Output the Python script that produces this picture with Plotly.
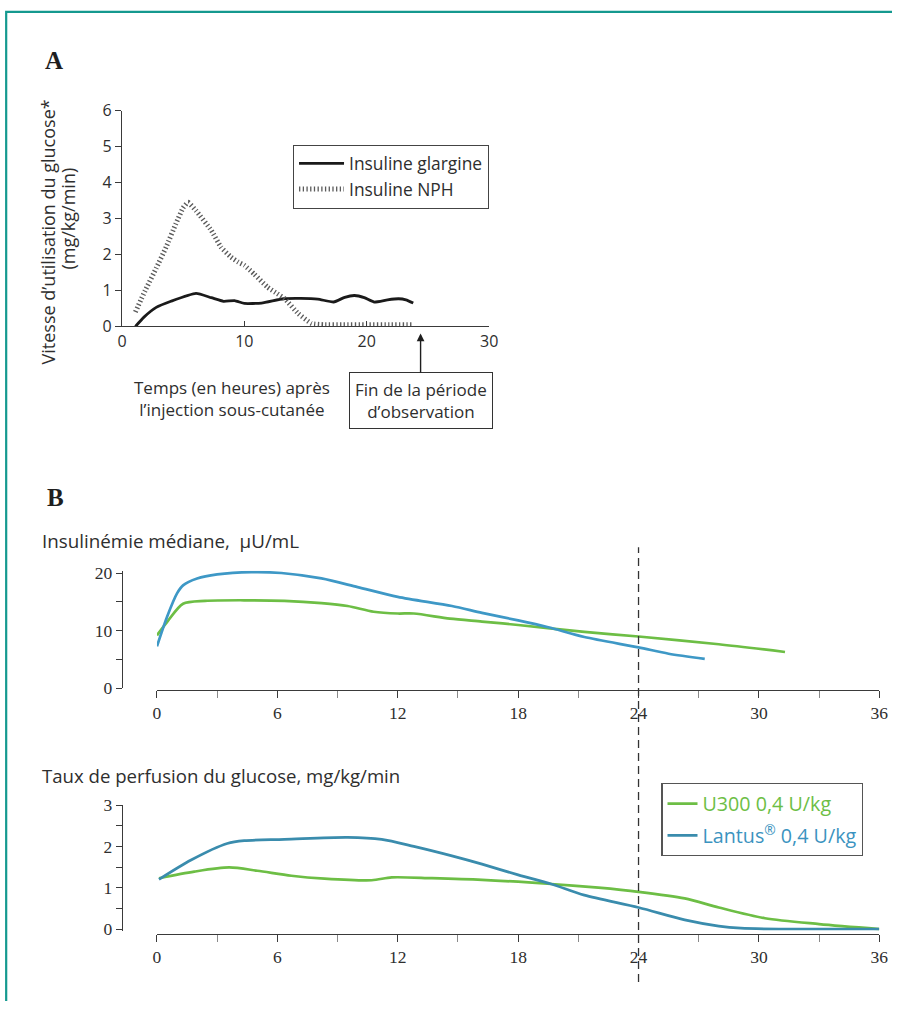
import plotly.graph_objects as go

W, H = 901, 1012
# measured photo mapping (page px -> picture px): pic = S * page + B
SX, BX, SY, BY = 0.984, 4.1, 0.979, 10.3
def fx(p): return ((p - BX) / SX) / W          # picture px -> paper fraction
def fy(p): return 1 - ((p - BY) / SY) / H

# ---------------- Panel A data ----------------
glargine_t = [1.1, 1.8, 2.8, 4.0, 6.05, 7.3, 8.3, 9.2, 10.0, 11.4, 13.2, 14.6, 16.0, 17.3, 18.2, 19.0, 19.8, 20.6, 21.7, 22.6, 23.2, 23.8]
glargine_v = [0.0, 0.26, 0.53, 0.70, 0.92, 0.80, 0.70, 0.72, 0.64, 0.65, 0.77, 0.78, 0.76, 0.68, 0.81, 0.86, 0.80, 0.68, 0.74, 0.77, 0.74, 0.65]
nph_t = [1.1, 1.9, 2.8, 3.6, 4.4, 5.0, 5.4, 6.05, 7.3, 8.1, 8.9, 9.5, 10.0, 10.8, 11.9, 12.7, 13.3, 14.4, 15.5, 16.5, 18.0, 20.0, 22.0, 23.8]
nph_v = [0.40, 1.00, 1.62, 2.20, 2.85, 3.30, 3.45, 3.22, 2.67, 2.20, 1.93, 1.79, 1.70, 1.46, 1.09, 0.91, 0.77, 0.36, 0.08, 0.05, 0.05, 0.05, 0.05, 0.05]

# ---------------- Panel B data ----------------
lantus_ins_t = [0, 0.5, 1.0, 1.3, 2.0, 3.0, 4.7, 6.2, 8.2, 10.0, 12.0, 14.7, 16.2, 18.0, 19.5, 21.3, 24.0, 25.5, 27.3]
lantus_ins_v = [7.3, 12.4, 16.5, 17.9, 19.1, 19.8, 20.2, 20.05, 19.1, 17.6, 15.9, 14.3, 13.1, 11.8, 10.6, 8.9, 7.1, 6.0, 5.1]
u300_ins_t = [0, 0.5, 1.3, 2.4, 4.5, 6.35, 8.2, 9.5, 10.8, 12.0, 12.8, 14.6, 16.2, 18.0, 21.3, 24.0, 28.0, 31.3]
u300_ins_v = [9.2, 11.5, 14.7, 15.2, 15.3, 15.2, 14.8, 14.3, 13.3, 13.0, 13.0, 12.1, 11.6, 11.0, 9.8, 9.0, 7.65, 6.3]

lantus_gir_t = [0.1, 1.7, 3.5, 4.35, 6.35, 9.5, 11.2, 12.8, 14.7, 16.2, 18.0, 19.65, 21.3, 24.0, 26.3, 28.0, 29.1, 31.0, 36.0]
lantus_gir_v = [1.2, 1.67, 2.07, 2.14, 2.17, 2.22, 2.17, 2.0, 1.77, 1.57, 1.31, 1.09, 0.82, 0.52, 0.22, 0.07, 0.02, 0.0, 0.0]
u300_gir_t = [0.1, 1.86, 3.6, 5.0, 6.7, 8.35, 10.7, 11.7, 13.7, 16.2, 19.65, 22.0, 24.0, 26.3, 28.0, 30.3, 33.0, 36.0]
u300_gir_v = [1.23, 1.39, 1.49, 1.41, 1.29, 1.22, 1.18, 1.25, 1.23, 1.19, 1.09, 1.0, 0.9, 0.74, 0.52, 0.26, 0.12, 0.0]

a_xticks = [0, 10, 20, 30]
a_yticks = [0, 1, 2, 3, 4, 5, 6]
b_xticks = [0, 6, 12, 18, 24, 30, 36]
b_xminor = [3, 9, 15, 21, 27, 33]
ins_yticks = [0, 10, 20]
ins_yminor = [5, 15]
gir_yticks = [0, 1, 2, 3]
gir_yminor = [0.5, 1.5, 2.5]

GREEN = "#6dbe45"
BLUE_T = "#3e98c6"
BLUE_B = "#3a8cad"
TXT = "#2e2e2e"
SANS = "Open Sans"
SERIF = "Liberation Serif"

fig = go.Figure()

fig.add_trace(go.Scatter(x=glargine_t, y=glargine_v, mode="lines", name="Insuline glargine",
                         line=dict(color="#1a1a1a", width=2.8, shape="spline", smoothing=0.5),
                         xaxis="x", yaxis="y", legend="legend"))
fig.add_trace(go.Scatter(x=nph_t, y=nph_v, mode="lines", name="Insuline NPH",
                         line=dict(color="#5a5a5a", width=5, dash="1.3px,2.4px", shape="spline", smoothing=0.4),
                         xaxis="x", yaxis="y", legend="legend"))

fig.add_trace(go.Scatter(x=u300_ins_t, y=u300_ins_v, mode="lines", showlegend=False,
                         line=dict(color=GREEN, width=2.7, shape="spline", smoothing=0.8),
                         xaxis="x2", yaxis="y2"))
fig.add_trace(go.Scatter(x=lantus_ins_t, y=lantus_ins_v, mode="lines", showlegend=False,
                         line=dict(color=BLUE_T, width=2.7, shape="spline", smoothing=0.8),
                         xaxis="x2", yaxis="y2"))

fig.add_trace(go.Scatter(x=u300_gir_t, y=u300_gir_v, mode="lines",
                         name="<span style='color:%s'>U300 0,4 U/kg</span>" % GREEN, legendgroup="g1",
                         line=dict(color=GREEN, width=2.7, shape="spline", smoothing=0.8),
                         xaxis="x3", yaxis="y3", legend="legend2"))
fig.add_trace(go.Scatter(x=lantus_gir_t, y=lantus_gir_v, mode="lines",
                         name="<span style='color:%s'>Lantus<sup>®</sup> 0,4 U/kg</span>" % "#3b93c0", legendgroup="g2",
                         line=dict(color=BLUE_B, width=2.7, shape="spline", smoothing=0.8),
                         xaxis="x3", yaxis="y3", legend="legend2"))

axis_common = dict(showgrid=False, zeroline=False, showline=True, linecolor="#3a3a3a", linewidth=1.3,
                   tickcolor="#3a3a3a", tickwidth=1.2)

ins_top = 20.45
gir_bot = -0.05
layout = dict(
    autosize=True, margin=dict(l=0, r=0, t=0, b=0),
    paper_bgcolor="white", plot_bgcolor="rgba(0,0,0,0)",
    font=dict(family=SANS, color=TXT),
    xaxis=dict(domain=[fx(121), fx(488)], range=[0, 30], anchor="y", tickvals=a_xticks,
               ticks="inside", ticklen=5, tickfont=dict(family=SANS, size=16, color=TXT), **axis_common),
    yaxis=dict(domain=[fy(326), fy(110)], range=[0, 6], anchor="x", tickvals=a_yticks,
               ticks="outside", ticklen=6, tickfont=dict(family=SANS, size=16, color=TXT), **axis_common),
    xaxis2=dict(domain=[fx(156), fx(878)], range=[0, 36], anchor="free", position=fy(690),
                tickvals=b_xticks, ticks="outside", ticklen=7,
                minor=dict(tickvals=b_xminor, ticks="outside", ticklen=7, tickcolor="#8a8a8a", tickwidth=1.2),
                tickfont=dict(family=SERIF, size=17.5, color=TXT), **axis_common),
    yaxis2=dict(domain=[fy(688), fy(688 - ins_top * 5.75)], range=[0, ins_top], anchor="free", position=fx(121),
                tickvals=ins_yticks, ticks="outside", ticklen=6,
                minor=dict(tickvals=ins_yminor, ticks="outside", ticklen=6, tickcolor="#3a3a3a", tickwidth=1.2),
                tickfont=dict(family=SERIF, size=17.5, color=TXT), **axis_common),
    xaxis3=dict(domain=[fx(156), fx(878)], range=[0, 36], anchor="free", position=fy(934),
                tickvals=b_xticks, ticks="outside", ticklen=7,
                minor=dict(tickvals=b_xminor, ticks="outside", ticklen=7, tickcolor="#8a8a8a", tickwidth=1.2),
                tickfont=dict(family=SERIF, size=17.5, color=TXT), **axis_common),
    yaxis3=dict(domain=[fy(929 - gir_bot * 41.33), fy(805)], range=[gir_bot, 3], anchor="free", position=fx(121),
                tickvals=gir_yticks, ticks="outside", ticklen=6,
                minor=dict(tickvals=gir_yminor, ticks="outside", ticklen=6, tickcolor="#3a3a3a", tickwidth=1.2),
                tickfont=dict(family=SERIF, size=17.5, color=TXT), **axis_common),
    legend=dict(x=fx(292), y=fy(144), xanchor="left", yanchor="top", bgcolor="white",
                bordercolor="#444", borderwidth=1, font=dict(family=SANS, size=17.4, color=TXT),
                itemwidth=45, tracegroupgap=0),
    legend2=dict(x=fx(660), y=fy(783), xanchor="left", yanchor="top", bgcolor="white",
                 bordercolor="#555", borderwidth=1.3, font=dict(family=SANS, size=19.7, color=TXT),
                 tracegroupgap=3),
)
fig.update_layout(**layout)

def note(text, x, y, size, xanchor="center", angle=0, family=SANS, color=TXT):
    return dict(text=text, x=fx(x), y=fy(y), xref="paper", yref="paper", xanchor=xanchor, yanchor="middle",
                textangle=angle, showarrow=False, align="center", font=dict(family=family, size=size, color=color))

ann = [
    note("<b>A</b>", 42, 60, 25, xanchor="left", family=SERIF, color="#1e1e1e"),
    note("<b>B</b>", 44, 497, 25, xanchor="left", family=SERIF, color="#1e1e1e"),
    note("Vitesse d’utilisation du glucose*", 47, 231, 18, angle=-90),
    note("(mg/kg/min)", 67, 218, 18, angle=-90),
    note("Temps (en heures) après<br>l’injection sous-cutanée", 231, 398, 17),
    note("Insulinémie médiane,  µU/mL", 39, 541, 18.8, xanchor="left"),
    note("Taux de perfusion du glucose, mg/kg/min", 39, 775, 18.6, xanchor="left"),
    dict(text="Fin de la période<br>d’observation", x=24.4, y=fy(333), xref="x", yref="paper",
         ax=0, ay=67, axref="pixel", ayref="pixel", showarrow=True, arrowhead=2, arrowsize=1.1,
         arrowwidth=1.4, arrowcolor="#1e1e1e", standoff=0, bordercolor="#333", borderwidth=1,
         borderpad=5, bgcolor="white", align="center", font=dict(family=SANS, size=17, color=TXT)),
]
fig.update_layout(annotations=ann)

shapes = [
    dict(type="path", xref="paper", yref="paper",
         path="M %f,%f L %f,%f L %f,%f" % (1.2 / W, 0, 1.2 / W, 1 - 0.9 / H, 1.0, 1 - 0.9 / H),
         line=dict(color="#14998f", width=2.2)),
    dict(type="line", xref="x2", yref="paper", x0=24, x1=24, y0=fy(982), y1=fy(547),
         line=dict(color="#333", width=1.3, dash="8px,5px")),
]
fig.update_layout(shapes=shapes)

fig.write_html("out.html",
               default_width="100vw", default_height="100vh",
               config=dict(displayModeBar=False, responsive=True),
               post_script="document.body.style.margin='0';document.body.style.padding='0';"
                           "document.documentElement.style.overflow='hidden';document.body.style.overflow='hidden';"
                           "Plotly.Plots.resize(document.getElementById('{plot_id}'));")
